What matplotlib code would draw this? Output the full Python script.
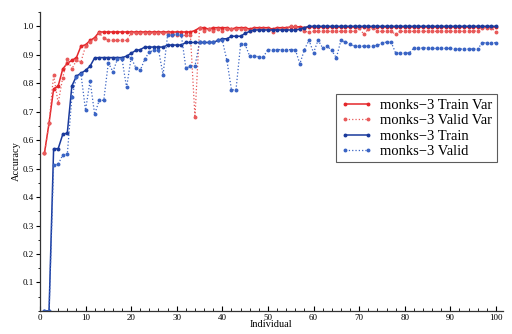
import numpy as np
import matplotlib
matplotlib.use("Agg")
import matplotlib.pyplot as plt
from matplotlib.ticker import MultipleLocator, FormatStrFormatter

plt.rcParams.update({
    "font.family": ["Liberation Serif", "DejaVu Serif"],
    "axes.unicode_minus": True,
    "figure.facecolor": "white",
    "axes.facecolor": "white",
})

individual = np.arange(1, 101)

train_var = [
    0.555, 0.66, 0.78, 0.79, 0.85, 0.87, 0.88, 0.89, 0.93, 0.935,
    0.95, 0.96, 0.98, 0.98, 0.98, 0.98, 0.98, 0.98, 0.98, 0.98,
    0.98, 0.98, 0.98, 0.98, 0.98, 0.98, 0.98, 0.98, 0.98, 0.98,
    0.98, 0.98, 0.98, 0.985, 0.995, 0.995, 0.99, 0.995, 0.995, 0.995,
    0.995, 0.99, 0.995, 0.995, 0.995, 0.99, 0.995, 0.995, 0.995, 0.995,
    0.99, 0.995, 0.995, 0.995, 0.998, 0.998, 0.998, 0.995, 0.997, 0.997,
    0.997, 0.997, 0.997, 0.997, 0.997, 0.997, 0.997, 0.997, 0.997, 0.997,
    0.997, 0.997, 0.997, 0.997, 0.997, 0.997, 0.997, 0.997, 0.997, 0.997,
    0.997, 0.997, 0.997, 0.997, 0.997, 0.997, 0.997, 0.997, 0.997, 0.997,
    0.997, 0.997, 0.997, 0.997, 0.997, 0.997, 0.997, 0.997, 0.997, 0.997,
]

valid_var = [
    0.555, 0.66, 0.83, 0.73, 0.82, 0.885, 0.85, 0.88, 0.875, 0.93,
    0.945, 0.955, 0.975, 0.96, 0.95, 0.95, 0.95, 0.95, 0.95, 0.975,
    0.975, 0.975, 0.975, 0.975, 0.975, 0.975, 0.975, 0.975, 0.968, 0.968,
    0.968, 0.968, 0.968, 0.68, 0.995, 0.985, 0.99, 0.985, 0.99, 0.985,
    0.99, 0.99, 0.99, 0.99, 0.99, 0.985, 0.99, 0.99, 0.99, 0.99,
    0.979, 0.99, 0.99, 0.99, 1.0, 1.0, 0.99, 0.982, 0.98, 0.982,
    0.982, 0.982, 0.982, 0.982, 0.982, 0.982, 0.982, 0.982, 0.982, 0.995,
    0.972, 0.99, 0.995, 0.982, 0.982, 0.982, 0.982, 0.972, 0.982, 0.982,
    0.982, 0.982, 0.982, 0.982, 0.982, 0.982, 0.982, 0.982, 0.982, 0.982,
    0.982, 0.982, 0.982, 0.982, 0.982, 0.985, 0.995, 0.995, 0.995, 0.98,
]

train = [
    0.0, 0.0, 0.57, 0.57, 0.62, 0.625, 0.79, 0.825, 0.835, 0.845,
    0.86, 0.889, 0.89, 0.89, 0.89, 0.89, 0.89, 0.89, 0.895, 0.905,
    0.915, 0.918, 0.927, 0.927, 0.927, 0.927, 0.927, 0.934, 0.934, 0.934,
    0.934, 0.943, 0.943, 0.943, 0.943, 0.943, 0.943, 0.943, 0.95, 0.956,
    0.956, 0.965, 0.965, 0.965, 0.975, 0.982, 0.987, 0.987, 0.987, 0.987,
    0.987, 0.987, 0.987, 0.987, 0.987, 0.987, 0.99, 0.995, 1.0, 1.0,
    1.0, 1.0, 1.0, 1.0, 1.0, 1.0, 1.0, 1.0, 1.0, 1.0,
    1.0, 1.0, 1.0, 1.0, 1.0, 1.0, 1.0, 1.0, 1.0, 1.0,
    1.0, 1.0, 1.0, 1.0, 1.0, 1.0, 1.0, 1.0, 1.0, 1.0,
    1.0, 1.0, 1.0, 1.0, 1.0, 1.0, 1.0, 1.0, 1.0, 1.0,
]

valid = [
    0.0, 0.0, 0.513, 0.515, 0.548, 0.55, 0.75, 0.822, 0.832, 0.705,
    0.808, 0.691, 0.74, 0.74, 0.872, 0.84, 0.885, 0.885, 0.785, 0.89,
    0.855, 0.845, 0.885, 0.91, 0.915, 0.917, 0.83, 0.97, 0.97, 0.974,
    0.97, 0.853, 0.86, 0.86, 0.943, 0.943, 0.943, 0.945, 0.95, 0.95,
    0.88, 0.777, 0.777, 0.936, 0.936, 0.895, 0.895, 0.893, 0.893, 0.918,
    0.918, 0.918, 0.918, 0.918, 0.918, 0.918, 0.868, 0.918, 0.951, 0.907,
    0.951, 0.924, 0.93, 0.915, 0.889, 0.95, 0.945, 0.937, 0.93, 0.93,
    0.93, 0.93, 0.93, 0.933, 0.94, 0.945, 0.945, 0.906, 0.906, 0.906,
    0.906, 0.924, 0.922, 0.924, 0.924, 0.922, 0.922, 0.922, 0.922, 0.922,
    0.92, 0.92, 0.92, 0.92, 0.92, 0.92, 0.942, 0.942, 0.942, 0.942,
]

RED = "#e4272b"
RED_LIGHT = "#e85a5a"
BLUE = "#1a3a9c"
BLUE_LIGHT = "#3a64c4"

fig = plt.figure(figsize=(5.12, 3.34), dpi=100)
ax = fig.add_axes([0.078, 0.069, 0.904, 0.895])

ax.plot(individual, train_var, "-", color=RED, lw=1.1, marker="o", ms=1.8,
        label="monks\u22123 Train Var")
ax.plot(individual, valid_var, ":", color=RED_LIGHT, lw=0.9, marker="o", ms=1.8,
        label="monks\u22123 Valid Var")
ax.plot(individual, train, "-", color=BLUE, lw=1.1, marker="o", ms=1.8,
        label="monks\u22123 Train")
ax.plot(individual, valid, ":", color=BLUE_LIGHT, lw=0.9, marker="o", ms=1.8,
        label="monks\u22123 Valid")

ax.set_xlim(0, 101.5)
ax.set_ylim(0, 1.05)
ax.xaxis.set_major_locator(MultipleLocator(10))
ax.xaxis.set_minor_locator(MultipleLocator(2))
ax.set_yticks(np.arange(0.1, 1.01, 0.1))
ax.yaxis.set_major_formatter(FormatStrFormatter("%.1f"))
ax.yaxis.set_minor_locator(MultipleLocator(0.05))

for side in ("top", "right"):
    ax.spines[side].set_visible(False)
for side in ("left", "bottom"):
    ax.spines[side].set_color("#333333")
    ax.spines[side].set_linewidth(0.9)

ax.tick_params(axis="x", which="major", direction="in", length=3.5, labelsize=6.5, pad=2)
ax.tick_params(axis="x", which="minor", direction="in", length=2)
ax.tick_params(axis="y", which="major", direction="out", length=3, labelsize=6.5, pad=1.5)
ax.tick_params(axis="y", which="minor", direction="out", length=1.5)

ax.set_xlabel("Individual", fontsize=7.5, labelpad=-1)
ax.set_ylabel("Accuracy", fontsize=7.5, labelpad=1)

leg = ax.legend(loc="upper left", bbox_to_anchor=(0.64, 0.725), fontsize=10.5,
                frameon=True, fancybox=False, numpoints=2, handlelength=2.2,
                labelspacing=0.15, borderpad=0.3, handletextpad=0.5,
                borderaxespad=0)
leg.get_frame().set_edgecolor("#333333")
leg.get_frame().set_linewidth(0.8)

fig.savefig("out.png", dpi=100)
